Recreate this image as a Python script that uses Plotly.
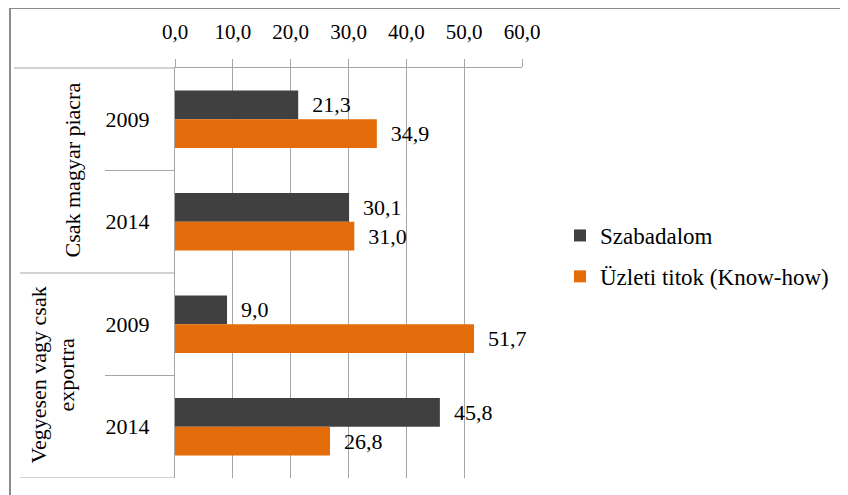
import plotly.graph_objects as go

# data
groups = ["Csak magyar piacra", "Vegyesen vagy csak<br>exportra"]
years = ["2009", "2014", "2009", "2014"]
szabadalom = [21.3, 30.1, 9.0, 45.8]
uzleti_titok = [34.9, 31.0, 51.7, 26.8]
x_ticks = [0, 10, 20, 30, 40, 50, 60]

DARK = "#404040"
ORANGE = "#E46C0A"
GRID = "#a6a6a6"
FONT = "'Liberation Serif', 'DejaVu Serif', 'Times New Roman', serif"

pos = list(range(len(years)))

# page has an 8px body margin, so figure px = page px - 8
OFF = 8
W, H = 848 - OFF, 495 - OFF


def lbl(vals):
    return ["\u00a0\u00a0" + f"{v:.1f}".replace(".", ",") for v in vals]


fig = go.Figure()
fig.add_trace(go.Bar(
    y=pos, x=szabadalom, orientation="h", name="Szabadalom",
    marker=dict(color=DARK, line=dict(width=0)),
    text=lbl(szabadalom), textposition="outside", constraintext="none",
    textfont=dict(family=FONT, size=22, color="black"),
    cliponaxis=False, legendgroup="a",
))
fig.add_trace(go.Bar(
    y=pos, x=uzleti_titok, orientation="h", name="Üzleti titok (Know-how)",
    marker=dict(color=ORANGE, line=dict(width=0)),
    text=lbl(uzleti_titok), textposition="outside", constraintext="none",
    textfont=dict(family=FONT, size=22, color="black"),
    cliponaxis=False, legendgroup="b",
))

# page pixel -> paper helpers (plot area 175..522 x, 68..478 y on the page)
L, R, T, B = 175, 522, 68, 478
def px(p):
    return (p - L) / (R - L)
def py(p):
    return 1 - (p - T) / (B - T)

shapes = []
# divider lines of the category axis
shapes.append(dict(type="line", xref="paper", yref="paper", x0=px(14), x1=0, y0=1, y1=1,
                   line=dict(color=GRID, width=1)))
for yb, xs in [(0.5, 105), (1.5, 20), (2.5, 105), (3.5, 20)]:
    shapes.append(dict(type="line", xref="paper", yref="y", x0=px(xs), x1=0, y0=yb, y1=yb,
                       line=dict(color=GRID, width=1)))
# chart border (right and bottom run off the picture)
shapes.append(dict(type="rect", xref="paper", yref="paper", x0=px(10), x1=px(880),
                   y0=py(520), y1=py(8), line=dict(color="#8c8c8c", width=2)))

annotations = []
for i, g in enumerate(groups):
    annotations.append(dict(
        text=g, xref="paper", yref="y", x=px(72 if i == 0 else 52), y=2 * i + 0.5,
        textangle=-90, showarrow=False, font=dict(family=FONT, size=22, color="black"),
        xanchor="center", yanchor="middle",
    ))

fig.update_layout(
    width=W, height=H,
    margin=dict(l=L - OFF, r=848 - R, t=T - OFF, b=495 - B, autoexpand=False),
    paper_bgcolor="white", plot_bgcolor="white",
    barmode="group", bargap=0.44, bargroupgap=0,
    separators=",.",
    font=dict(family=FONT, size=22, color="black"),
    shapes=shapes, annotations=annotations,
    legend=dict(x=px(560), xanchor="left", y=py(256), yanchor="middle",
                font=dict(family=FONT, size=23, color="black"),
                tracegroupgap=8, bgcolor="rgba(0,0,0,0)"),
    showlegend=True,
)
fig.update_xaxes(
    side="top", range=[0, 60], tickvals=x_ticks, tickformat=".1f",
    showgrid=True, gridcolor=GRID, gridwidth=1,
    showline=True, linecolor=GRID, linewidth=1,
    ticks="outside", ticklen=8, tickcolor=GRID, ticklabelstandoff=12,
    tickfont=dict(family=FONT, size=21, color="black"), zeroline=False,
)
fig.update_yaxes(
    range=[3.5, -0.5], tickvals=pos, ticktext=years,
    showgrid=False, zeroline=False,
    showline=True, linecolor=GRID, linewidth=1, ticks="",
    ticklabelstandoff=20,
    tickfont=dict(family=FONT, size=22, color="black"),
)

fig.write_html("out.html")
